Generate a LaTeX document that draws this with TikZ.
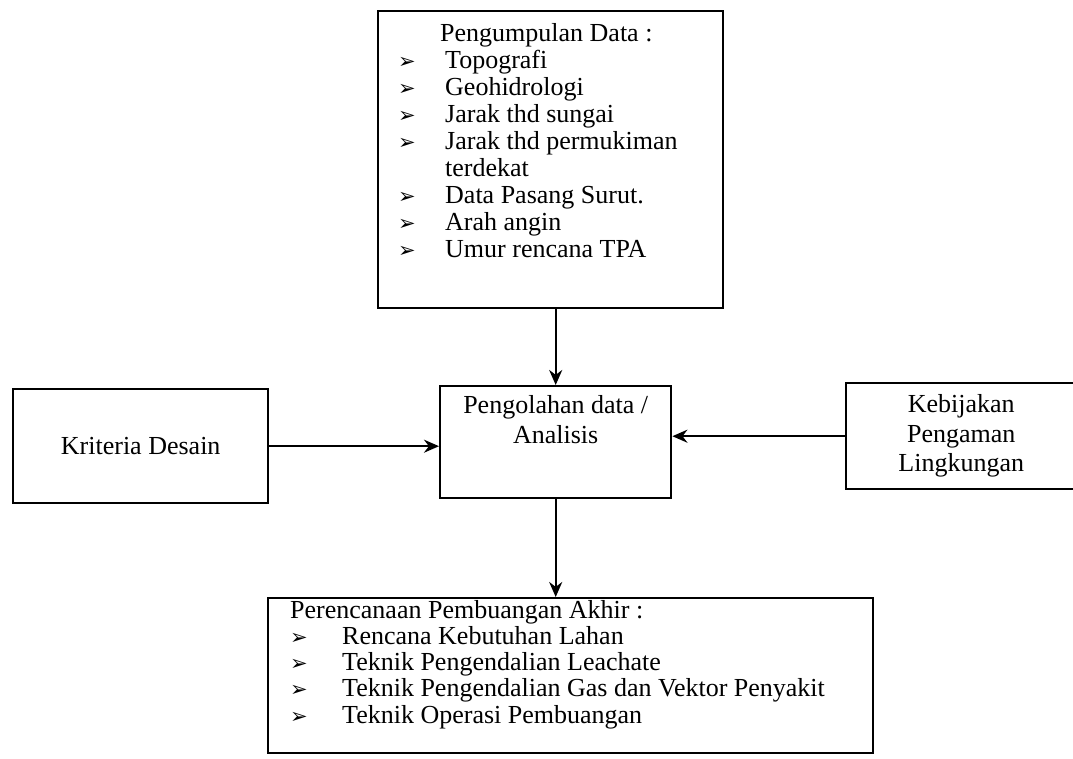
\documentclass[tikz,border=0pt]{standalone}
\usepackage{fontspec}
\setmainfont{Liberation Serif}
\newfontfamily\bulfont{DejaVu Sans}
\usetikzlibrary{arrows.meta}

\newcommand{\bul}[1][47pt]{\makebox[#1][l]{\bulfont\fontsize{21}{21}\selectfont ➢}}

\begin{document}
\begin{tikzpicture}[
  x=1pt, y=-1pt,
  font=\fontsize{26}{27}\selectfont,
  flowbox/.style={draw, line width=2.4pt, inner sep=0pt, anchor=north west},
  listtext/.style={align=left, anchor=north west, inner sep=0pt},
  boxtext/.style={align=center, inner sep=0pt, font=\fontsize{26}{30}\selectfont},
  flow/.style={->, line width=2pt},
  >={Stealth[length=15pt, width=13pt]}
]
\path[fill=white, use as bounding box] (0,0) rectangle (1073,758);

% Top box - data collection list
\node[flowbox, minimum width=345pt, minimum height=297pt] (data) at (377,10) {};
\node[listtext] (datatext) at (398,23) {\hspace*{42pt}Pengumpulan Data :\\
  \bul Topografi\\
  \bul Geohidrologi\\
  \bul Jarak thd sungai\\
  \bul Jarak thd permukiman\\
  \hspace*{47pt}terdekat\\
  \bul Data Pasang Surut.\\
  \bul Arah angin\\
  \bul Umur rencana TPA};

% Middle row - criteria, analysis, policy
\node[flowbox, minimum width=255pt, minimum height=114pt] (krit) at (12,388) {Kriteria Desain};
\node[flowbox, minimum width=231pt, minimum height=112pt] (olah) at (439,385) {};
\node[boxtext] (olahtext) at ([yshift=23pt]olah.center) {Pengolahan data /\\Analisis};
\node[flowbox, boxtext, anchor=north west, minimum width=230pt, minimum height=106pt,
  font=\fontsize{26}{29.5}\selectfont] (bijak) at (845,382) {Kebijakan\\Pengaman\\Lingkungan};

% Bottom box - final disposal planning list
\node[flowbox, minimum width=605pt, minimum height=155pt] (plan) at (267,597) {};
\node[listtext, font=\fontsize{26}{26.2}\selectfont] (plantext) at (290,600) {Perencanaan Pembuangan Akhir :\\
  \bul[52pt]Rencana Kebutuhan Lahan\\
  \bul[52pt]Teknik Pengendalian Leachate\\
  \bul[52pt]Teknik Pengendalian Gas dan Vektor Penyakit\\
  \bul[52pt]Teknik Operasi Pembuangan};

% Arrows into and out of the analysis box
\draw[flow] (olah.north |- data.south) -- (olah.north);
\draw[flow] (krit.east) -- (krit.east -| olah.west);
\draw[flow] (bijak.west) -- (bijak.west -| olah.east);
\draw[flow] (olah.south) -- (olah.south |- plan.north);
\end{tikzpicture}
\end{document}
